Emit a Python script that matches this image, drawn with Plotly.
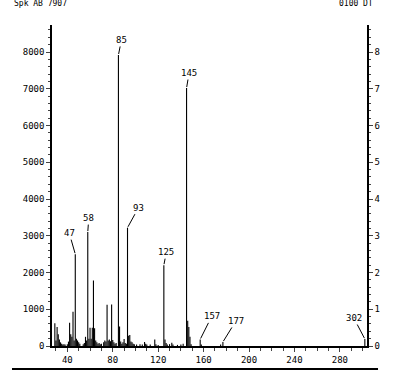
import plotly.graph_objects as go

# m/z values and abundances
masses = [29, 30, 31, 32, 33, 34, 35, 36, 37, 38, 40, 41, 42, 43, 44, 45, 46, 47, 48, 49, 50, 51,
          54, 55, 56, 57, 58, 59, 60, 61, 62, 63, 64, 65, 66, 67, 68, 69, 70, 72, 73, 74, 75, 76,
          77, 78, 79, 80, 81, 82, 83, 85, 86, 87, 88, 89, 90, 91, 92, 93, 94, 95, 96, 97, 98, 99,
          101, 104, 106, 108, 109, 110, 113, 117, 118, 120, 125, 126, 127, 128, 130, 132, 133,
          137, 140, 142, 145, 146, 147, 148, 149, 157, 158, 175, 177, 302]
abund = [620, 150, 520, 320, 180, 100, 60, 40, 50, 40, 50, 120, 630, 320, 250, 930, 150, 2500, 200, 150, 100, 60,
         50, 80, 250, 150, 3100, 200, 500, 200, 500, 1780, 480, 150, 100, 60, 80, 50, 60, 100, 150, 120, 1120, 150,
         180, 130, 1130, 160, 100, 60, 80, 7920, 530, 120, 60, 100, 190, 80, 60, 3220, 280, 300, 120, 100, 60, 50,
         40, 50, 40, 110, 60, 40, 40, 180, 50, 30, 2200, 180, 80, 40, 50, 90, 40,
         30, 40, 60, 7020, 690, 520, 250, 50, 180, 40, 40, 110, 190]

labelled = [47, 58, 85, 93, 125, 145, 157, 177, 302]
label_off = {47: (-6, -21), 58: (1, -14), 85: (3, -15), 93: (11, -20), 125: (2.5, -13),
             145: (2.5, -15), 157: (11.5, -23), 177: (13, -21), 302: (-11, -21)}

y_ticks = [0, 1000, 2000, 3000, 4000, 5000, 6000, 7000, 8000]
y2_ticks = [0, 1, 2, 3, 4, 5, 6, 7, 8]
x_ticks = [40, 80, 120, 160, 200, 240, 280]

header_left = "Spk AB 7907"
header_right = "0100 DT"

xs, ys = [], []
for m, a in zip(masses, abund):
    xs += [m, m, None]
    ys += [0, a, None]

FONT = "DejaVu Sans Mono"

fig = go.Figure()
fig.add_trace(go.Scatter(x=xs, y=ys, mode="lines", line=dict(color="black", width=1.1),
                         hoverinfo="skip", showlegend=False))
fig.add_trace(go.Scatter(x=[None], y=[None], yaxis="y2", showlegend=False))

ab = dict(zip(masses, abund))
for m in labelled:
    ax, ay = label_off[m]
    fig.add_annotation(x=m, y=ab[m], text=str(m), showarrow=True, arrowhead=0, arrowwidth=1,
                       arrowcolor="black", ax=ax, ay=ay, standoff=1,
                       font=dict(family=FONT, size=9, color="black"))

fig.add_annotation(xref="paper", yref="paper", x=-0.127, y=1.066, xanchor="left", yanchor="middle",
                   text=header_left, showarrow=False, font=dict(family=FONT, size=8, color="black"))
fig.add_annotation(xref="paper", yref="paper", x=1.025, y=1.066, xanchor="right", yanchor="middle",
                   text=header_right, showarrow=False, font=dict(family=FONT, size=8, color="black"))

fig.add_shape(type="line", xref="paper", yref="paper", x0=-0.127, x1=1.035, y0=-0.0717, y1=-0.0717,
              line=dict(color="black", width=2))

axis_font = dict(family=FONT, size=9, color="black")
fig.update_layout(
    width=402, height=378,
    margin=dict(l=52, r=35, t=25, b=32),
    paper_bgcolor="white", plot_bgcolor="white",
    showlegend=False,
    xaxis=dict(range=[26.5, 303.9], tickvals=x_ticks, ticks="outside", ticklen=4, tickwidth=1,
               showline=True, linecolor="black", linewidth=1.5, showgrid=False, zeroline=False,
               tickfont=axis_font, minor=dict(dtick=10, tick0=0, ticks="outside", ticklen=3)),
    yaxis=dict(range=[0, 8735], tickvals=y_ticks, ticks="outside", ticklen=4, tickwidth=1,
               showline=True, linecolor="black", linewidth=1.5, showgrid=False, zeroline=False,
               tickfont=axis_font, minor=dict(dtick=200, tick0=0, ticks="outside", ticklen=2)),
    yaxis2=dict(range=[0, 8.735], tickvals=y2_ticks, overlaying="y", side="right",
                ticks="outside", ticklen=4, tickwidth=1, showline=True, linecolor="black",
                linewidth=1.5, showgrid=False, zeroline=False, tickfont=axis_font,
                minor=dict(dtick=0.2, tick0=0, ticks="outside", ticklen=2)),
)

fig.write_html("out.html", config={"displayModeBar": False},
               post_script="document.body.style.margin='0';document.body.style.overflow='hidden';")
